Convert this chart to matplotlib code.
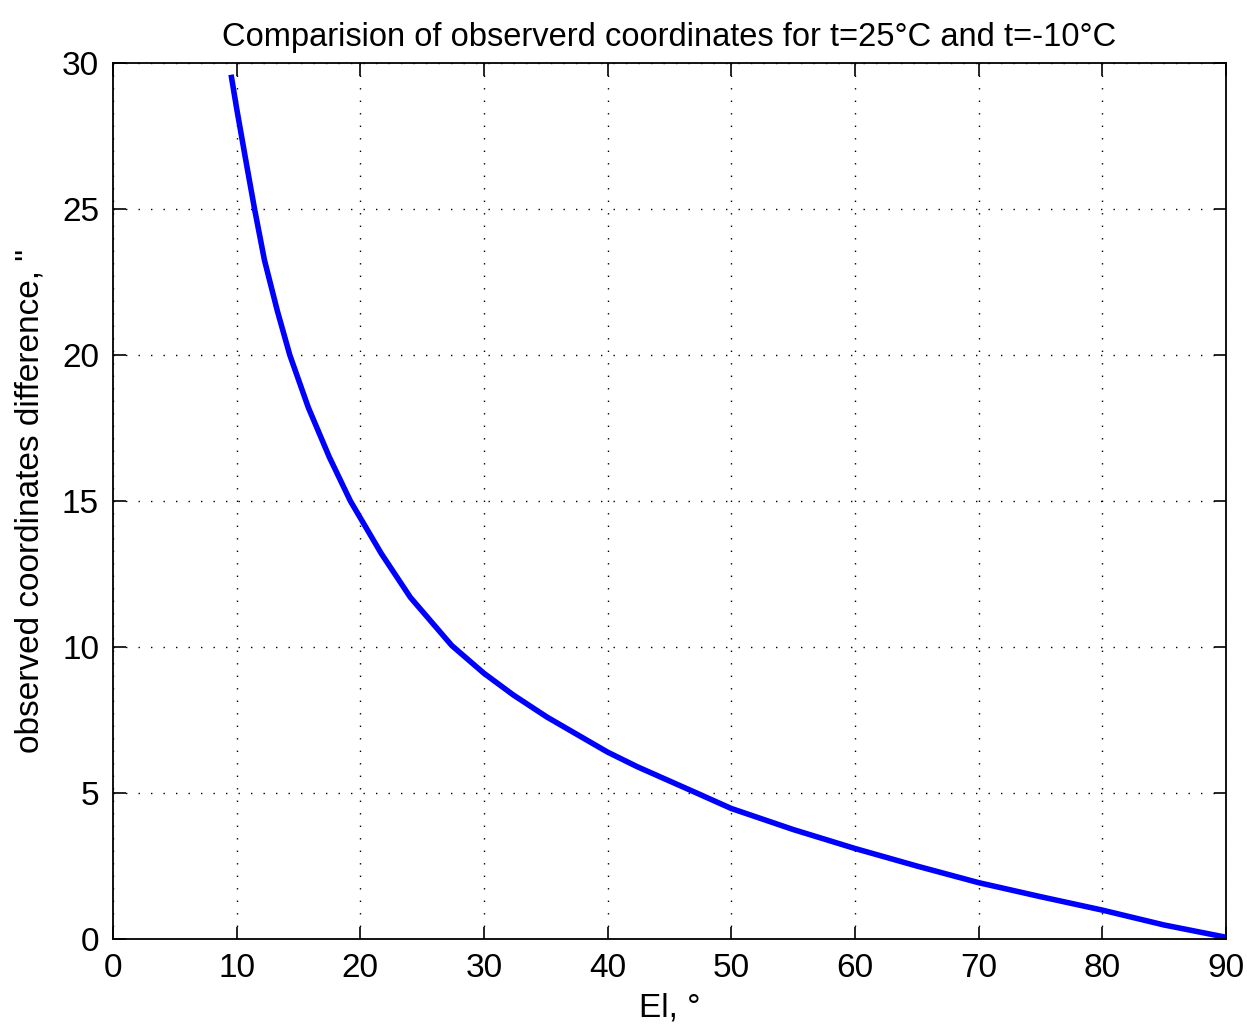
import numpy as np
import matplotlib
matplotlib.use("Agg")
import matplotlib.pyplot as plt

# elevation (deg) and observed coordinate difference (arcsec)
elev = [9.55, 10.0, 10.75, 11.45, 12.25, 13.3, 14.3, 15.8, 17.5, 19.2, 21.7,
        24.05, 27.4, 30.0, 32.4, 35.1, 40.0, 42.4, 47.2, 50.0, 55.0, 60.0,
        65.0, 70.0, 75.0, 80.0, 85.0, 90.0]
diff = [29.6, 28.45, 26.65, 25.0, 23.25, 21.5, 20.0, 18.2, 16.5, 15.0, 13.2,
        11.7, 10.05, 9.1, 8.35, 7.6, 6.4, 5.9, 5.0, 4.47, 3.75, 3.1,
        2.5, 1.93, 1.45, 0.99, 0.48, 0.06]

xticks = [0, 10, 20, 30, 40, 50, 60, 70, 80, 90]
yticks = [0, 5, 10, 15, 20, 25, 30]

plt.rcParams['font.family'] = ['Liberation Sans Narrow', 'Liberation Sans', 'DejaVu Sans']

fig = plt.figure(figsize=(12.47, 10.28), dpi=100)
ax = fig.add_axes([0.0906, 0.0866, 0.8924, 0.8521])

ax.plot(elev, diff, color=(0, 0, 1), lw=4.0, solid_joinstyle='round',
        solid_capstyle='butt')

ax.set_xlim(0, 90)
ax.set_ylim(0, 30)
ax.set_xticks(xticks)
ax.set_yticks(yticks)
ax.tick_params(direction='in', length=9, width=1.2, top=True, right=True,
               labelsize=24, pad=10, colors='black')
ax.grid(True, color='black', linestyle=(0, (1, 8)), lw=1.0)
for sp in ax.spines.values():
    sp.set_linewidth(1.3)

ax.set_title("Comparision of observerd coordinates for t=25°C and t=-10°C",
             fontsize=23.5, pad=12)
ax.set_xlabel("El, °", fontsize=24, labelpad=6)
ax.set_ylabel('observed coordinates difference, "', fontsize=24, labelpad=12)

fig.savefig("out.png", dpi=100)
